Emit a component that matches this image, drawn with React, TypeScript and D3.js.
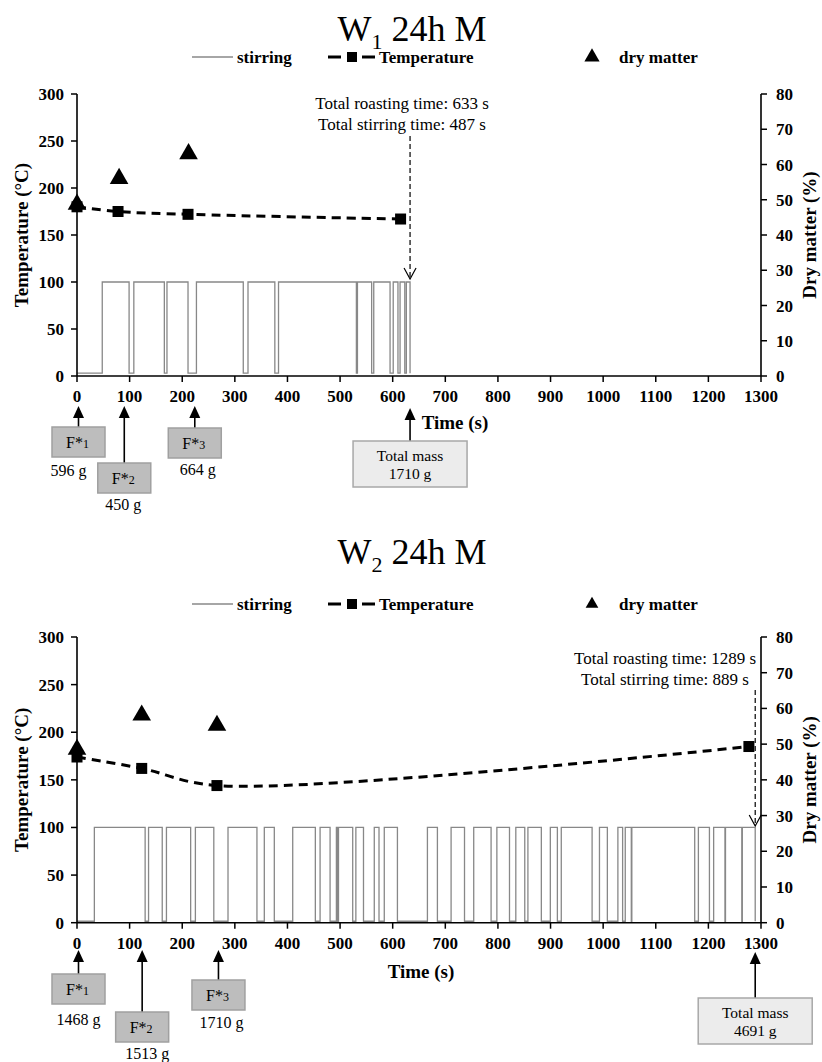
import React from 'react';
import * as d3 from 'd3';

// ---------- data ----------
const xTicks = d3.range(0, 1301, 100);
const tempTicks = [0, 50, 100, 150, 200, 250, 300];
const dryTicks = [0, 10, 20, 30, 40, 50, 60, 70, 80];

// W1 24h M
const w1StirOn: [number, number][] = [
  [48, 99], [108, 166], [171, 211], [227, 316], [325, 376], [383, 531],
  [533, 560], [564, 595], [601, 610], [614, 623], [626, 633],
];
const w1TempTime = [0, 78, 211, 615];
const w1TempValue = [180, 175, 172, 167];
const w1DryTime = [0, 80, 212];
const w1DryValue = [49, 56.3, 63.3];
const w1FeedTime = [0, 87, 221];
const w1FeedMass = ['596 g', '450 g', '664 g'];
const w1RoastTime = 633;
const w1StirTime = 487;
const w1TotalMass = '1710 g';

// W2 24h M
const w2StirOn: [number, number][] = [
  [33, 129.5], [136, 162], [170, 216], [225, 260], [287, 342], [356, 375],
  [410, 453], [462, 481], [493, 495], [497, 524], [530, 544.5], [565, 574],
  [584, 609], [666, 685], [711, 736.5], [754, 787], [798, 822], [834, 851],
  [857, 882.5], [899.6, 913], [920.4, 979], [993, 1008], [1028, 1037],
  [1042, 1053.5], [1054.5, 1174], [1181, 1202], [1210, 1231.5], [1232.5, 1263.5],
  [1264.5, 1289],
];
const w2TempTime = [0, 123, 266, 1277];
const w2TempValue = [174, 162, 144, 185];
const w2DryTime = [0, 123, 266];
const w2DryValue = [48.8, 58.4, 55.5];
const w2FeedTime = [0, 121, 266];
const w2FeedMass = ['1468 g', '1513 g', '1710 g'];
const w2RoastTime = 1289;
const w2StirTime = 889;
const w2TotalMass = '4691 g';

// ---------- layout ----------
const SERIF = '"Liberation Serif", "Times New Roman", Times, serif';
const X0 = 77;
const X1 = 761;

interface PanelProps {
  sub: string;
  titleY: number;
  legendY: number;
  legendTri: number;
  top: number;
  bottom: number;
  stirOn: [number, number][];
  stirLow: number;
  tempTime: number[];
  tempValue: number[];
  dryTime: number[];
  dryValue: number[];
  feedTime: number[];
  feedMass: string[];
  roast: number;
  stir: number;
  totalMass: string;
  noteX: number;
  noteY: number;
  arrowTop: number;
  arrowTip: number;
  feedArrowTop: number;
  boxTops: number[];
  massXOff: number[];
  massY: number[];
  totalBox: [number, number];
  timeLabel: [number, number];
}

function Panel(p: PanelProps) {
  const x = d3.scaleLinear().domain([0, 1300]).range([X0, X1]);
  const yT = d3.scaleLinear().domain([0, 300]).range([p.bottom, p.top]);
  const yD = d3.scaleLinear().domain([0, 80]).range([p.bottom, p.top]);

  const stirPts: [number, number][] = [[0, p.stirLow]];
  p.stirOn.forEach(([a, b]) => {
    stirPts.push([a, p.stirLow], [a, 100], [b, 100], [b, p.stirLow]);
  });
  const stirPath = d3.line<[number, number]>().x(d => x(d[0])).y(d => yT(d[1]))(stirPts) || '';

  const tempPts = p.tempTime.map((t, i) => [t, p.tempValue[i]] as [number, number]);
  const tempPath = d3
    .line<[number, number]>()
    .x(d => x(d[0]))
    .y(d => yT(d[1]))
    .curve(d3.curveCatmullRom.alpha(0.5))(tempPts) || '';

  const tri = d3.symbol().type(d3.symbolTriangle).size(150)() || '';
  const legTri = d3.symbol().type(d3.symbolTriangle).size(p.legendTri)() || '';

  const midY = (p.top + p.bottom) / 2;
  const bw = 53;
  const bh = 30;

  const upArrow = (ax: number, y0: number, y1: number, key: string) => (
    <g key={key}>
      <line x1={ax} x2={ax} y1={y0 + 10} y2={y1} stroke="#000" strokeWidth={1.6} />
      <path d={`M${ax},${y0} L${ax - 5.5},${y0 + 12} L${ax + 5.5},${y0 + 12} Z`} fill="#000" />
    </g>
  );

  const rx = x(p.roast);

  return (
    <g fontFamily={SERIF}>
      {/* title */}
      <text x={412} y={p.titleY} textAnchor="middle" fontSize={36} fill="#000">
        W<tspan fontSize={22} dy={8}>{p.sub}</tspan>
        <tspan dy={-8}> 24h M</tspan>
      </text>
      {/* legend */}
      <g fontWeight="bold" fontSize={17}>
        <line x1={192} x2={233} y1={p.legendY} y2={p.legendY} stroke="#888" strokeWidth={1.3} />
        <text x={237} y={p.legendY + 6}>stirring</text>
        <line x1={328} x2={341} y1={p.legendY} y2={p.legendY} stroke="#000" strokeWidth={3} />
        <rect x={347} y={p.legendY - 5} width={10} height={10} fill="#000" />
        <line x1={362} x2={375} y1={p.legendY} y2={p.legendY} stroke="#000" strokeWidth={3} />
        <text x={379} y={p.legendY + 6}>Temperature</text>
        <path d={legTri} transform={`translate(592,${p.legendY})`} fill="#000" />
        <text x={619} y={p.legendY + 6}>dry matter</text>
      </g>

      {/* stirring */}
      <path d={stirPath} fill="none" stroke="#888" strokeWidth={1.3} />

      {/* axes */}
      <line x1={X0} x2={X0} y1={p.top} y2={p.bottom} stroke="#000" strokeWidth={1.6} />
      <line x1={X1} x2={X1} y1={p.top} y2={p.bottom} stroke="#000" strokeWidth={1.6} />
      <line x1={X0} x2={X1} y1={p.bottom} y2={p.bottom} stroke="#000" strokeWidth={1.6} />
      <g fontWeight="bold" fontSize={17}>
        {tempTicks.map(v => (
          <g key={'t' + v}>
            <line x1={X0 - 6} x2={X0} y1={yT(v)} y2={yT(v)} stroke="#000" strokeWidth={1.5} />
            <text x={X0 - 13} y={yT(v) + 6} textAnchor="end">{v}</text>
          </g>
        ))}
        {dryTicks.map(v => (
          <g key={'d' + v}>
            <line x1={X1} x2={X1 + 6} y1={yD(v)} y2={yD(v)} stroke="#000" strokeWidth={1.5} />
            <text x={X1 + 15} y={yD(v) + 6} textAnchor="start">{v}</text>
          </g>
        ))}
        {xTicks.map(v => (
          <g key={'x' + v}>
            <line x1={x(v)} x2={x(v)} y1={p.bottom} y2={p.bottom + 6} stroke="#000" strokeWidth={1.5} />
            <text x={x(v)} y={p.bottom + 26} textAnchor="middle">{v}</text>
          </g>
        ))}
      </g>
      <text
        transform={`translate(21,${midY}) rotate(-90)`}
        textAnchor="middle"
        dominantBaseline="central"
        fontWeight="bold"
        fontSize={19}
      >
        Temperature (°C)
      </text>
      <text
        transform={`translate(809,${midY}) rotate(-90)`}
        textAnchor="middle"
        dominantBaseline="central"
        fontWeight="bold"
        fontSize={19}
      >
        Dry matter (%)
      </text>
      <text x={p.timeLabel[0]} y={p.timeLabel[1]} textAnchor="middle" fontWeight="bold" fontSize={19}>
        Time (s)
      </text>

      {/* temperature */}
      <path d={tempPath} fill="none" stroke="#000" strokeWidth={3} strokeDasharray="9,6" />
      {tempPts.map((d, i) => (
        <rect key={'sq' + i} x={x(d[0]) - 5.5} y={yT(d[1]) - 5.5} width={11} height={11} fill="#000" />
      ))}
      {/* dry matter */}
      {p.dryTime.map((t, i) => (
        <path key={'tr' + i} d={tri} transform={`translate(${x(t)},${yD(p.dryValue[i]) + 1})`} fill="#000" />
      ))}

      {/* roasting note */}
      <g fontSize={17} textAnchor="middle">
        <text x={p.noteX} y={p.noteY}>Total roasting time: {p.roast} s</text>
        <text x={p.noteX} y={p.noteY + 21}>Total stirring time: {p.stir} s</text>
      </g>
      <line x1={rx} x2={rx} y1={p.arrowTop} y2={p.arrowTip} stroke="#000" strokeWidth={1.2} strokeDasharray="5,3" />
      <path
        d={`M${rx - 6},${p.arrowTip - 11} L${rx},${p.arrowTip} L${rx + 6},${p.arrowTip - 11}`}
        fill="none"
        stroke="#000"
        strokeWidth={1.2}
      />

      {/* feeds */}
      {p.feedTime.map((t, i) => {
        const ax = x(t) + 1.5;
        const by = p.boxTops[i];
        return (
          <g key={'f' + i}>
            {upArrow(ax, p.feedArrowTop, by, 'a' + i)}
            <rect x={ax - bw / 2} y={by} width={bw} height={bh} fill="#bdbdbd" stroke="#a0a0a0" strokeWidth={1.5} />
            <text x={ax - 1} y={by + bh / 2 + 5.5} textAnchor="middle" fontSize={16}>
              F*<tspan fontSize={12}>{i + 1}</tspan>
            </text>
            <text x={ax + p.massXOff[i]} y={p.massY[i]} textAnchor="middle" fontSize={16}>
              {p.feedMass[i]}
            </text>
          </g>
        );
      })}
      {upArrow(rx, p.feedArrowTop + 2, p.totalBox[0], 'tm')}
      <rect
        x={rx - 57}
        y={p.totalBox[0]}
        width={114}
        height={p.totalBox[1]}
        fill="#ececec"
        stroke="#a8a8a8"
        strokeWidth={1.5}
      />
      <text x={rx} y={p.totalBox[0] + p.totalBox[1] / 2 - 3} textAnchor="middle" fontSize={15.5}>
        Total mass
      </text>
      <text x={rx} y={p.totalBox[0] + p.totalBox[1] / 2 + 15} textAnchor="middle" fontSize={15.5}>
        {p.totalMass}
      </text>
    </g>
  );
}

export default function App() {
  return (
    <svg
      width={822}
      height={1062}
      viewBox="0 0 822 1062"
      style={{ position: 'absolute', left: 0, top: 0, background: '#fff' }}
    >
      <rect width={822} height={1062} fill="#fff" />
      <Panel
        sub="1"
        titleY={41}
        legendY={57}
        legendTri={100}
        top={94}
        bottom={376}
        stirOn={w1StirOn}
        stirLow={3}
        tempTime={w1TempTime}
        tempValue={w1TempValue}
        dryTime={w1DryTime}
        dryValue={w1DryValue}
        feedTime={w1FeedTime}
        feedMass={w1FeedMass}
        roast={w1RoastTime}
        stir={w1StirTime}
        totalMass={w1TotalMass}
        noteX={402}
        noteY={109}
        arrowTop={136}
        arrowTip={279}
        feedArrowTop={406}
        boxTops={[427, 463, 428]}
        massXOff={[-10, -1, 3]}
        massY={[476, 510, 475]}
        totalBox={[441, 46]}
        timeLabel={[455, 429]}
      />
      <Panel
        sub="2"
        titleY={564}
        legendY={604}
        legendTri={70}
        top={637}
        bottom={922.7}
        stirOn={w2StirOn}
        stirLow={1.5}
        tempTime={w2TempTime}
        tempValue={w2TempValue}
        dryTime={w2DryTime}
        dryValue={w2DryValue}
        feedTime={w2FeedTime}
        feedMass={w2FeedMass}
        roast={w2RoastTime}
        stir={w2StirTime}
        totalMass={w2TotalMass}
        noteX={665}
        noteY={664}
        arrowTop={690}
        arrowTip={826}
        feedArrowTop={950}
        boxTops={[974, 1012, 980]}
        massXOff={[0, 5, 3]}
        massY={[1025, 1059, 1028]}
        totalBox={[998, 46]}
        timeLabel={[421, 978]}
      />
    </svg>
  );
}
